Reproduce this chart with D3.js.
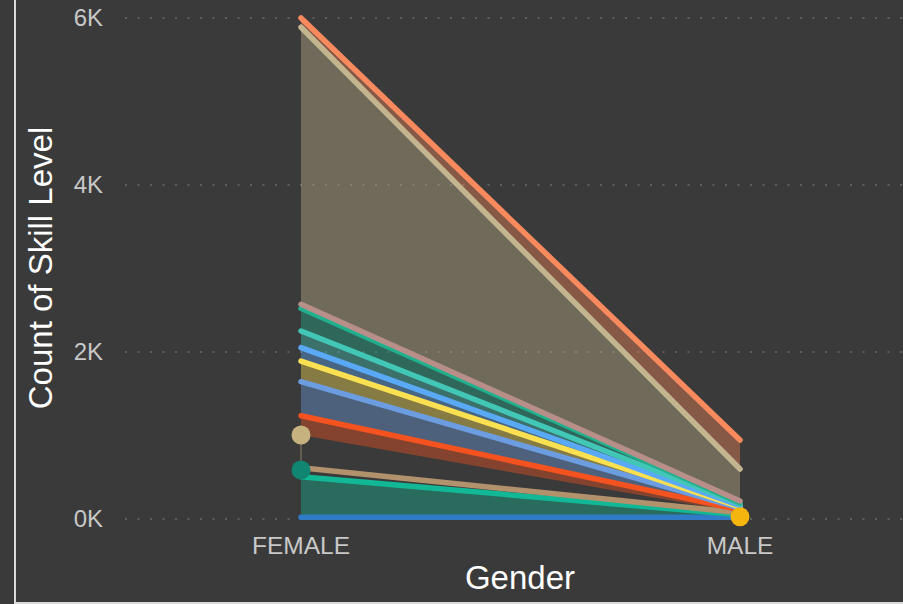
<!DOCTYPE html>
<html>
<head>
<meta charset="utf-8">
<script src="https://cdn.jsdelivr.net/npm/d3@7/dist/d3.min.js"></script>
<style>
  html, body { margin: 0; padding: 0; background: #3a3a3a; }
  svg { display: block; }
</style>
</head>
<body>
<script>
// ---- data ----
const categories = ["FEMALE", "MALE"];
const seriesNames = ["S1","S2","S3","S4","S5","S6","S7","S8","S9","S10","S11","S12","S13","S14","S15"];
const seriesColors = ["#2f7bc7","#f5b50f","#12b896","#0f8572","#b2916d","#c5b27f","#f4531f","#6b9de0","#fbe052","#59a9f6","#42c6b6","#20b08e","#b78f88","#c3b58f","#f98a5d"];
const femaleValues = [20, null, 487, 80, 27, 392, 231, 407, 248, 160, 199, 272, 48, 3318, 111];
const maleValues   = [20, 8,    22, null, 25, null, 35,  20,  15,  15,  20,  15,  20, 384,  347];
const yTickValues = [0, 2000, 4000, 6000];
const yTickLabels = ["0K", "2K", "4K", "6K"];

// ---- layout ----
const W = 903, H = 604;
const svg = d3.select("body").append("svg").attr("width", W).attr("height", H);
svg.append("rect").attr("width", W).attr("height", H).attr("fill", "#3a3a3a");

const x = d3.scalePoint().domain(categories).range([301, 740]);
const y = d3.scaleLinear().domain([0, 6000]).range([519, 18]);

// frame lines
svg.append("line").attr("x1", 15).attr("x2", 15).attr("y1", 0).attr("y2", H)
  .attr("stroke", "#d9d9d9").attr("stroke-width", 2);
svg.append("line").attr("x1", 15).attr("x2", W).attr("y1", 603).attr("y2", 603)
  .attr("stroke", "#d9d9d9").attr("stroke-width", 2);

// gridlines
const grid = svg.append("g");
grid.selectAll("line").data(yTickValues).join("line")
  .attr("x1", 125).attr("x2", W)
  .attr("y1", d => y(d)).attr("y2", d => y(d))
  .attr("stroke", "#5e5e5e").attr("stroke-width", 2)
  .attr("stroke-dasharray", "2 10.5");

// y tick labels
svg.append("g").selectAll("text").data(yTickValues).join("text")
  .attr("x", 103).attr("y", d => y(d)).attr("dy", "0.35em")
  .attr("text-anchor", "end")
  .attr("font-family", "Liberation Sans, Arial, sans-serif")
  .attr("font-size", 24).attr("fill", "#c8c8c8")
  .text((d, i) => yTickLabels[i]);

// x tick labels
svg.append("g").selectAll("text").data(categories).join("text")
  .attr("x", d => x(d)).attr("y", 554)
  .attr("text-anchor", "middle")
  .attr("font-family", "Liberation Sans, Arial, sans-serif")
  .attr("font-size", 24.5).attr("fill", "#c8c8c8")
  .text(d => d);

// titles
svg.append("text").attr("x", 520).attr("y", 589)
  .attr("text-anchor", "middle")
  .attr("font-family", "Liberation Sans, Arial, sans-serif")
  .attr("font-size", 33).attr("fill", "#ffffff").text("Gender");
svg.append("text")
  .attr("transform", "translate(52,268) rotate(-90)")
  .attr("text-anchor", "middle")
  .attr("font-family", "Liberation Sans, Arial, sans-serif")
  .attr("font-size", 33).attr("fill", "#ffffff").text("Count of Skill Level");

// ---- stack ----
const table = categories.map((c, ci) => {
  const row = { cat: c };
  seriesNames.forEach((s, si) => {
    const v = ci === 0 ? femaleValues[si] : maleValues[si];
    row[s] = v == null ? 0 : v;
  });
  return row;
});
const stacked = d3.stack().keys(seriesNames)(table);
const hasVal = (si, ci) => (ci === 0 ? femaleValues[si] : maleValues[si]) != null;

const area = d3.area().x(d => x(d.data.cat)).y0(d => y(d[0])).y1(d => y(d[1]));
const line = d3.line().x(d => x(d.data.cat)).y(d => y(d[1]));

const gArea = svg.append("g");
const gLine = svg.append("g");
const gDot = svg.append("g");

stacked.forEach((layer, si) => {
  const pts = layer.filter((d, ci) => hasVal(si, ci));
  const col = seriesColors[si];
  if (pts.length === 2) {
    gArea.append("path").datum(layer).attr("d", area)
      .attr("fill", col).attr("fill-opacity", 0.4);
    gLine.append("path").datum(layer).attr("d", line)
      .attr("fill", "none").attr("stroke", col).attr("stroke-width", 5.5)
      .attr("stroke-linecap", "round");
  } else {
    const d = pts[0];
    gArea.append("line")
      .attr("x1", x(d.data.cat)).attr("x2", x(d.data.cat))
      .attr("y1", y(d[0])).attr("y2", y(d[1]))
      .attr("stroke", col).attr("stroke-opacity", 0.4).attr("stroke-width", 1.5);
    gDot.append("circle")
      .attr("cx", x(d.data.cat)).attr("cy", y(d[1])).attr("r", 9.5)
      .attr("fill", col);
  }
});
</script>
</body>
</html>
